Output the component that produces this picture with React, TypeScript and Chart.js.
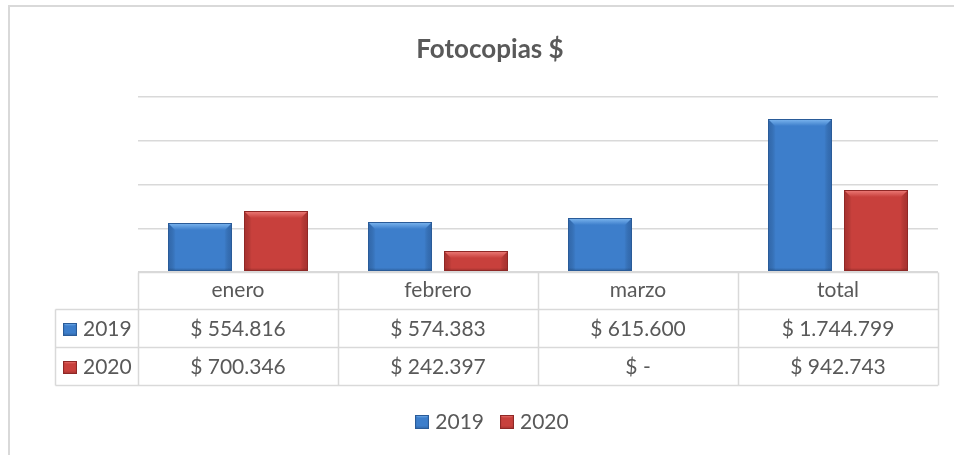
import { useEffect, useRef } from "react";
import { Chart, registerables } from "chart.js";

Chart.register(...registerables);

const title = "Fotocopias $";
const categories = ["enero", "febrero", "marzo", "total"];
const seriesNames = ["2019", "2020"];
const values2019 = [554816, 574383, 615600, 1744799];
const values2020 = [700346, 242397, 0, 942743];
const table2019 = ["$ 554.816", "$ 574.383", "$ 615.600", "$ 1.744.799"];
const table2020 = ["$ 700.346", "$ 242.397", "$ -", "$ 942.743"];
const yMin = 0;
const yMax = 2000000;
const yStep = 500000;

const FONT = "Lato, 'Noto Sans', sans-serif";
const TEXT = "#595959";
const LINE = "#d9d9d9";

const palette = [
  { main: "#3d7ecb", light: "#7fb8f0", dark: "#2a5b98", side: "rgba(25,60,115,0.32)" },
  { main: "#c8403c", light: "#ee7e7a", dark: "#8f2826", side: "rgba(110,20,20,0.32)" },
];

function bevelRect(ctx: CanvasRenderingContext2D, l: number, t: number, r: number, b: number, c: any, bev: number) {
  ctx.save();
  ctx.fillStyle = c.main;
  ctx.fillRect(l, t, r - l, b - t);
  const sg = ctx.createLinearGradient(l, 0, r, 0);
  sg.addColorStop(0, c.side);
  sg.addColorStop(0.12, "rgba(0,0,0,0)");
  sg.addColorStop(0.88, "rgba(0,0,0,0)");
  sg.addColorStop(1, c.side);
  ctx.fillStyle = sg;
  ctx.fillRect(l, t, r - l, b - t);
  const tg = ctx.createLinearGradient(0, t, 0, t + bev);
  tg.addColorStop(0, c.light);
  tg.addColorStop(1, c.main);
  ctx.fillStyle = tg;
  ctx.beginPath();
  ctx.moveTo(l, t);
  ctx.lineTo(r, t);
  ctx.lineTo(r - bev, t + bev);
  ctx.lineTo(l + bev, t + bev);
  ctx.closePath();
  ctx.fill();
  const bg = ctx.createLinearGradient(0, b - 3, 0, b);
  bg.addColorStop(0, "rgba(0,0,0,0)");
  bg.addColorStop(1, c.side);
  ctx.fillStyle = bg;
  ctx.fillRect(l, b - 3, r - l, 3);
  ctx.strokeStyle = c.dark;
  ctx.lineWidth = 1;
  ctx.strokeRect(l + 0.5, t + 0.5, r - l - 1, b - t - 1);
  ctx.restore();
}

const decorPlugin = {
  id: "decor",
  beforeDraw(chart: any) {
    const ctx = chart.ctx as CanvasRenderingContext2D;
    ctx.save();
    ctx.fillStyle = "#ffffff";
    ctx.fillRect(0, 0, chart.width, chart.height);
    ctx.strokeStyle = LINE;
    ctx.lineWidth = 2;
    ctx.strokeRect(9, 6, chart.width + 20, chart.height + 20);
    ctx.restore();
  },
  afterDatasetsDraw(chart: any) {
    const ctx = chart.ctx as CanvasRenderingContext2D;
    chart.data.datasets.forEach((ds: any, di: number) => {
      const meta = chart.getDatasetMeta(di);
      meta.data.forEach((el: any) => {
        const p = el.getProps(["x", "y", "base", "width"], true);
        const l = p.x - p.width / 2;
        const r = p.x + p.width / 2;
        const t = Math.min(p.y, p.base);
        const b = Math.max(p.y, p.base);
        if (b - t < 1) return;
        bevelRect(ctx, Math.round(l), Math.round(t), Math.round(r), Math.round(b), palette[di], 7);
      });
    });
  },
  afterDraw(chart: any) {
    const ctx = chart.ctx as CanvasRenderingContext2D;
    const area = chart.chartArea;
    const xs = chart.scales.x;
    const colW = area.width / categories.length;
    const top = Math.round(area.bottom) + 0.5;
    const y1 = 309.5;
    const y2 = 347.5;
    const y3 = 385.5;
    const labelLeft = 55.5;
    ctx.save();
    ctx.fillStyle = TEXT;
    ctx.font = `bold 26px ${FONT}`;
    ctx.textAlign = "center";
    ctx.textBaseline = "alphabetic";
    ctx.fillText(title, 490, 58);

    ctx.strokeStyle = LINE;
    ctx.lineWidth = 1.5;
    ctx.beginPath();
    ctx.moveTo(area.left, top);
    ctx.lineTo(area.right, top);
    [y1, y2, y3].forEach((yy) => {
      ctx.moveTo(labelLeft, yy);
      ctx.lineTo(area.right, yy);
    });
    ctx.moveTo(labelLeft, y1);
    ctx.lineTo(labelLeft, y3);
    for (let i = 0; i <= categories.length; i++) {
      const xx = Math.round(area.left + i * colW) + 0.5;
      ctx.moveTo(xx, top);
      ctx.lineTo(xx, y3);
    }
    ctx.stroke();

    ctx.fillStyle = TEXT;
    ctx.font = `21px ${FONT}`;
    ctx.textAlign = "center";
    categories.forEach((c, i) => {
      const cx = xs.getPixelForValue(i);
      ctx.fillText(c, cx, 297);
      ctx.fillText(table2019[i], cx, 336);
      ctx.fillText(table2020[i], cx, 374);
    });
    ctx.textAlign = "left";
    [336, 374].forEach((by, si) => {
      bevelRect(ctx, 63, by - 13, 77, by, palette[si], 3);
      ctx.fillStyle = TEXT;
      ctx.fillText(seriesNames[si], 83, by);
    });

    const gap = 16;
    const box = 14;
    const widths = seriesNames.map((s) => ctx.measureText(s).width);
    const total = widths.reduce((a, w) => a + box + 6 + w, 0) + gap * (seriesNames.length - 1);
    let lx = 492 - total / 2;
    const ly = 429;
    seriesNames.forEach((s, si) => {
      bevelRect(ctx, Math.round(lx), ly - 14, Math.round(lx) + box, ly, palette[si], 3);
      ctx.fillStyle = TEXT;
      ctx.fillText(s, lx + box + 6, ly);
      lx += box + 6 + widths[si] + gap;
    });
    ctx.restore();
  },
};

export default function App() {
  const ref = useRef<HTMLCanvasElement | null>(null);
  useEffect(() => {
    document.body.style.margin = "0";
    const canvas = ref.current;
    if (!canvas) return;
    const chart = new Chart(canvas, {
      type: "bar",
      data: {
        labels: categories,
        datasets: [
          {
            label: seriesNames[0],
            data: values2019,
            backgroundColor: "rgba(0,0,0,0)",
            borderWidth: 0,
            categoryPercentage: 0.76,
            barPercentage: 0.842,
          },
          {
            label: seriesNames[1],
            data: values2020,
            backgroundColor: "rgba(0,0,0,0)",
            borderWidth: 0,
            categoryPercentage: 0.76,
            barPercentage: 0.842,
          },
        ],
      },
      options: {
        responsive: false,
        animation: false,
        devicePixelRatio: 1,
        layout: { padding: { left: 138, right: 16, top: 97, bottom: 183 } },
        plugins: {
          legend: { display: false },
          title: { display: false },
          tooltip: { enabled: false },
        },
        scales: {
          x: {
            display: false,
          },
          y: {
            display: true,
            min: yMin,
            max: yMax,
            ticks: { display: false, stepSize: yStep },
            border: { display: false },
            grid: { color: LINE, lineWidth: 1.5, drawTicks: false },
            afterFit: (s: any) => {
              s.width = 0;
            },
          },
        },
      },
      plugins: [decorPlugin],
    });
    return () => chart.destroy();
  }, []);
  return (
    <div style={{ width: 954, height: 455 }}>
      <canvas ref={ref} width={954} height={455} style={{ display: "block" }} />
    </div>
  );
}
